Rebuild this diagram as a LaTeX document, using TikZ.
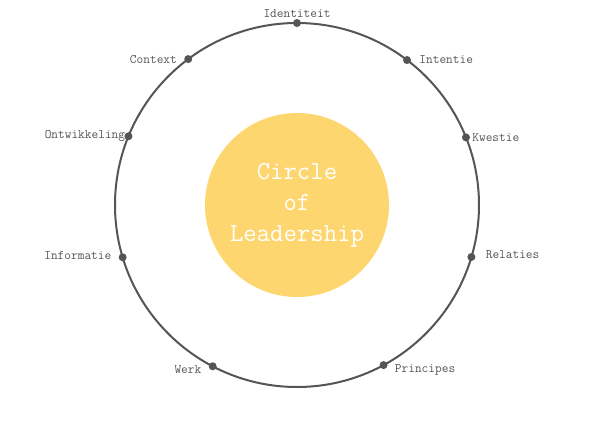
\documentclass[tikz,border=0pt]{standalone}
\usepackage{xcolor}
\usepackage{tikz}
\usetikzlibrary{positioning}
\definecolor{ringgray}{HTML}{555555}
\definecolor{coreyellow}{HTML}{FED66F}

\begin{document}
\begin{tikzpicture}[
    x=1pt, y=1pt,
    ring/.style={draw=ringgray, line width=2pt},
    core/.style={circle, fill=coreyellow, minimum size=184pt, inner sep=0pt,
                 text=white, align=center, font=\ttfamily\fontsize{26}{31}\selectfont},
    dot/.style={circle, fill=ringgray, minimum size=8pt, inner sep=0pt},
    lbl/.style={text=ringgray, font=\ttfamily\fontsize{13}{15}\selectfont, inner sep=1pt}
  ]
    \useasboundingbox (-297,-219) rectangle (303,205);
    \draw[ring] (0,0) circle (182);
    \node[core] (core) at (0,0) {Circle\\of\\Leadership};
    % points on the ring
    \node[dot, label={[lbl, label distance=0pt]above:Identiteit}] (identiteit) at (90:182) {};
    \node[dot, label={[lbl, label distance=7pt]right:Intentie}] (intentie) at (52.8:182) {};
    \node[dot, label={[lbl, label distance=1pt]right:Kwestie}] (kwestie) at (21.8:182) {};
    \node[dot, label={[lbl, label distance=9pt, yshift=2pt]right:Relaties}] (relaties) at (-16.6:182) {};
    \node[dot, label={[lbl, label distance=6pt, yshift=-5pt]right:Principes}] (principes) at (-61.6:182) {};
    \node[dot, label={[lbl, label distance=6pt, yshift=-3pt]left:Werk}] (werk) at (242.4:182) {};
    \node[dot, label={[lbl, label distance=6pt, yshift=2pt]left:Informatie}] (informatie) at (196.7:182) {};
    \node[dot, label={[lbl, label distance=-2pt]left:Ontwikkeling}] (ontwikkeling) at (157.8:182) {};
    \node[dot, label={[lbl, label distance=6pt]left:Context}] (context) at (126.7:182) {};
\end{tikzpicture}
\end{document}
